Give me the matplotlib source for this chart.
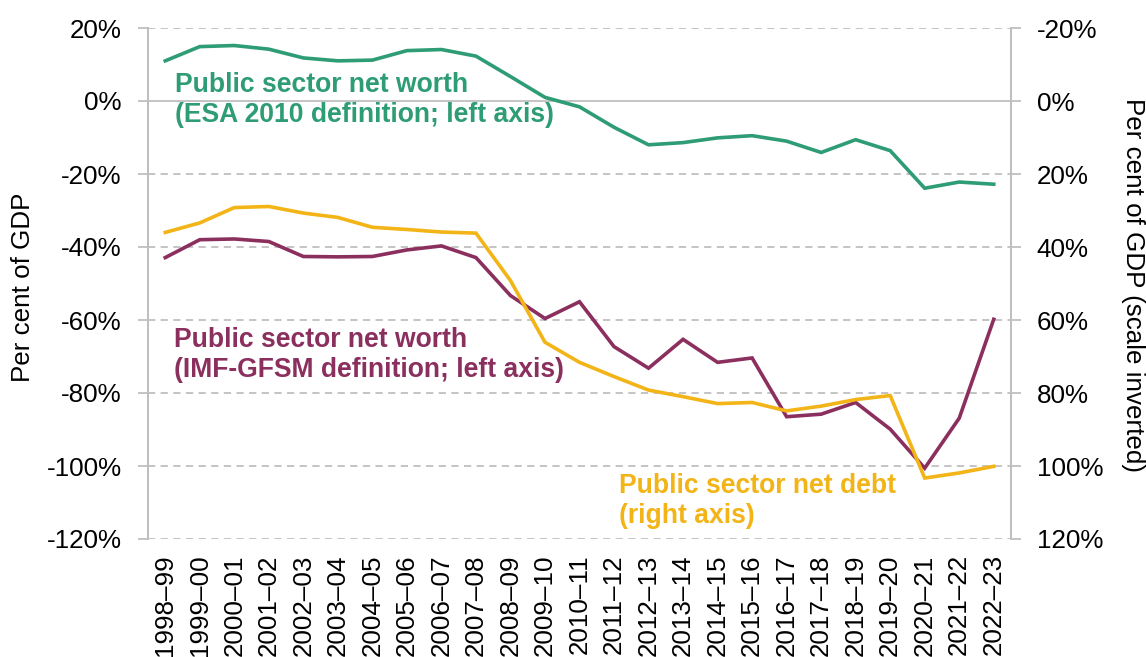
import matplotlib
matplotlib.use("Agg")
import matplotlib.pyplot as plt
import numpy as np

years = ["1998–99", "1999–00", "2000–01", "2001–02", "2002–03", "2003–04", "2004–05",
         "2005–06", "2006–07", "2007–08", "2008–09", "2009–10", "2010–11", "2011–12",
         "2012–13", "2013–14", "2014–15", "2015–16", "2016–17", "2017–18", "2018–19",
         "2019–20", "2020–21", "2021–22", "2022–23"]

nw_esa = [11.0, 14.9, 15.2, 14.2, 11.8, 11.0, 11.2, 13.8, 14.1, 12.3, 6.7, 1.0, -1.6,
          -7.2, -12.0, -11.4, -10.1, -9.5, -11.0, -14.1, -10.6, -13.6, -23.9, -22.2, -22.8]

nw_imf = [-42.9, -38.0, -37.8, -38.5, -42.6, -42.7, -42.6, -40.8, -39.7, -42.9, -53.3,
          -59.6, -55.0, -67.3, -73.2, -65.3, -71.6, -70.4, -86.5, -85.8, -82.6, -89.9,
          -100.6, -86.9, -59.8]

net_debt = [36.0, 33.4, 29.2, 28.9, 30.7, 31.9, 34.6, 35.2, 35.9, 36.2, 49.2, 66.1, 71.6,
            75.5, 79.2, 81.0, 82.9, 82.6, 84.9, 83.6, 81.8, 80.7, 103.3, 101.9, 100.1]

left_ticks = [20, 0, -20, -40, -60, -80, -100, -120]
right_ticks = [-20, 0, 20, 40, 60, 80, 100, 120]

GREEN = "#2E9C74"
PURPLE = "#8B2F5F"
YELLOW = "#F2B417"
GRID = "#BFBFBF"

plt.rcParams['font.family'] = ['Liberation Sans', 'DejaVu Sans']
FS = 18.7
BFS = 19.1

fig = plt.figure(figsize=(11.46, 6.57), dpi=100)
ax = fig.add_axes([148/1146, 1-539/657, (1011-148)/1146, (539-28)/657])
ax2 = ax.twinx()

x = np.arange(len(years))

ax.set_xlim(-0.5, len(years) - 0.5)
ax.set_ylim(-120, 20)
ax2.set_ylim(120, -20)

for v in left_ticks:
    if v == 0:
        ax.axhline(v, color=GRID, lw=1.3, zorder=0)
    else:
        ax.axhline(v, color=GRID, lw=1.3, ls=(0, (4, 3)), zorder=0)

ax.plot(x, nw_esa, color=GREEN, lw=2.6, solid_joinstyle='miter', zorder=3)
ax.plot(x, nw_imf, color=PURPLE, lw=2.6, solid_joinstyle='miter', zorder=3)
ax2.plot(x, net_debt, color=YELLOW, lw=2.6, solid_joinstyle='miter', zorder=2)

ax.set_yticks(left_ticks)
ax.set_yticklabels([f"{v}%" for v in left_ticks], fontsize=FS)
ax2.set_yticks(right_ticks)
ax2.set_yticklabels([f"{v}%" for v in right_ticks], fontsize=FS)

ax.set_xticks(x)
ax.set_xticklabels(years, rotation=90, fontsize=FS)
ax.tick_params(axis='x', length=0, pad=11)
ax.tick_params(axis='y', length=7, width=1.3, color=GRID, pad=12)
ax2.tick_params(axis='y', length=7, width=1.3, color=GRID, pad=11.5)

for a in (ax, ax2):
    for s in ('top', 'bottom'):
        a.spines[s].set_visible(False)
    a.spines['left'].set_color(GRID)
    a.spines['right'].set_color(GRID)
    a.spines['left'].set_linewidth(1.3)
    a.spines['right'].set_linewidth(1.3)

fig.text(23/1146, 1-287/657, "Per cent of GDP", fontsize=FS, rotation=90,
         ha='center', va='center')
fig.text(1133/1146, 1-285/657, "Per cent of GDP (scale inverted)", fontsize=FS,
         rotation=270, ha='center', va='center')

def label(xpos, ys, lines, color):
    for yv, line in zip(ys, lines):
        ax.text(xpos, yv, line, color=color, fontsize=BFS, fontweight='bold',
                va='baseline', ha='left', zorder=4)

label(0.29, [2.55, -5.75], ["Public sector net worth", "(ESA 2010 definition; left axis)"], GREEN)
label(0.26, [-67.5, -75.7], ["Public sector net worth", "(IMF-GFSM definition; left axis)"], PURPLE)
label(13.14, [-107.5, -115.5], ["Public sector net debt", "(right axis)"], YELLOW)

fig.savefig("out.png", dpi=100)
